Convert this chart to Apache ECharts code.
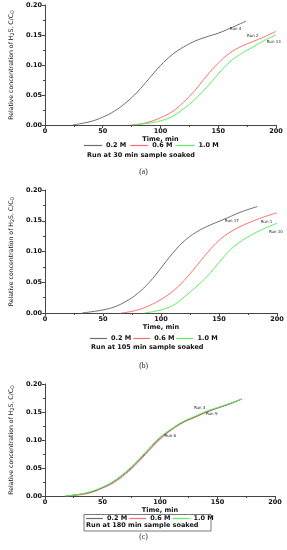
<!DOCTYPE html>
<html>
<head>
<meta charset="utf-8">
<script src="https://cdn.jsdelivr.net/npm/echarts@6/dist/echarts.min.js"></script>
<style>
html,body{margin:0;padding:0;background:#fff;}
#c{width:287px;height:550px;}
</style>
</head>
<body>
<div id="c"></div>
<script>
// ---------- data ----------
var seriesNames = ['0.2 M', '0.6 M', '1.0 M'];
var xTicks = [0, 50, 100, 150, 200];
var yTicks = [0.00, 0.05, 0.10, 0.15, 0.20];

// Panel (a): run at 30 min sample soaked
var timeA1 = [24, 30, 40, 50, 60, 70, 80, 90, 100, 110, 120, 130, 140, 150, 160, 174];
var concA1 = [0.000, 0.002, 0.006, 0.013, 0.023, 0.037, 0.055, 0.077, 0.099, 0.117, 0.130, 0.140, 0.147, 0.153, 0.161, 0.173];
var timeA2 = [74, 80, 90, 100, 110, 120, 130, 140, 150, 160, 170, 180, 190, 200];
var concA2 = [0.000, 0.001, 0.005, 0.012, 0.022, 0.038, 0.058, 0.082, 0.103, 0.120, 0.131, 0.139, 0.147, 0.156];
var timeA3 = [76, 90, 100, 110, 120, 130, 140, 150, 160, 170, 180, 190, 200];
var concA3 = [0.000, 0.003, 0.007, 0.014, 0.027, 0.043, 0.063, 0.085, 0.105, 0.119, 0.130, 0.141, 0.150];

// Panel (b): run at 105 min sample soaked
var timeB1 = [32, 40, 50, 60, 70, 80, 90, 100, 110, 120, 130, 140, 150, 160, 170, 183];
var concB1 = [0.000, 0.002, 0.005, 0.010, 0.019, 0.032, 0.050, 0.073, 0.097, 0.117, 0.131, 0.141, 0.149, 0.157, 0.165, 0.173];
var timeB2 = [66, 70, 80, 90, 100, 110, 120, 130, 140, 150, 160, 170, 180, 190, 200];
var concB2 = [0.000, 0.001, 0.005, 0.012, 0.022, 0.035, 0.053, 0.075, 0.098, 0.118, 0.132, 0.142, 0.150, 0.157, 0.163];
var timeB3 = [86, 95, 100, 110, 120, 130, 140, 150, 160, 170, 180, 190, 200];
var concB3 = [0.000, 0.003, 0.005, 0.012, 0.026, 0.042, 0.060, 0.082, 0.103, 0.118, 0.129, 0.138, 0.146];

// Panel (c): run at 180 min sample soaked
var timeC1 = [18, 30, 40, 50, 60, 70, 80, 90, 100, 110, 120, 130, 140, 150, 160, 171];
var concC1 = [0.000, 0.003, 0.007, 0.015, 0.026, 0.041, 0.060, 0.082, 0.103, 0.119, 0.132, 0.141, 0.150, 0.157, 0.164, 0.173];
var timeC2 = [18, 30, 40, 50, 60, 70, 80, 90, 100, 110, 120, 130, 140, 150, 160, 171];
var concC2 = [0.000, 0.002, 0.006, 0.014, 0.024, 0.039, 0.058, 0.080, 0.101, 0.118, 0.131, 0.140, 0.149, 0.157, 0.164, 0.173];
var timeC3 = [18, 30, 40, 50, 60, 70, 80, 90, 100, 110, 120, 130, 140, 150, 160, 171];
var concC3 = [0.000, 0.003, 0.008, 0.016, 0.027, 0.043, 0.062, 0.084, 0.105, 0.120, 0.133, 0.142, 0.151, 0.158, 0.165, 0.173];

// run annotations: [time, conc, text]
var runsA = [[160, 0.160, 'Run 4'], [175, 0.148, 'Run 2'], [192, 0.138, 'Run 13']];
var runsB = [[155, 0.150, 'Run 17'], [186, 0.148, 'Run 1'], [193, 0.132, 'Run 10']];
var runsC = [[129.5, 0.157, 'Run 3'], [140, 0.147, 'Run 9'], [104, 0.107, 'Run 6']];

var titles = ['Run at 30 min sample soaked', 'Run at 105 min sample soaked', 'Run at 180 min sample soaked'];
var panelTags = ['(a)', '(b)', '(c)'];

// ---------- styling / layout ----------
var colors = ['#6e6e6e', '#ff6f6f', '#5cee5c'];
var FONT = 'DejaVu Sans';
var grids = [
  {left: 36, top: 5, width: 240, height: 120},
  {left: 36, top: 190, width: 241, height: 123},
  {left: 36, top: 384, width: 239, height: 112}
];
var legendTop = [142, 335, 515];
var legendLeft = [84, 90, 86];
var legendItemW = [18, 17, 17];
var legendGap = [4, 2, 2];
var titleTop = [152, 344, 522];
var titleLeft = [87, 91, 86];
var tagTop = [168, 362, 533];

function zip(t, c) { return t.map(function (v, i) { return [v, c[i]]; }); }

var panels = [
  [[timeA1, concA1], [timeA2, concA2], [timeA3, concA3]],
  [[timeB1, concB1], [timeB2, concB2], [timeB3, concB3]],
  [[timeC1, concC1], [timeC2, concC2], [timeC3, concC3]]
];
var runs = [runsA, runsB, runsC];

var option = {
  animation: false,
  backgroundColor: '#fff',
  grid: grids,
  xAxis: [], yAxis: [], series: [], legend: [], title: [], graphic: []
};

for (var p = 0; p < 3; p++) {
  option.xAxis.push({
    gridIndex: p, type: 'value', min: xTicks[0], max: xTicks[xTicks.length - 1], interval: 50,
    name: 'Time, min', nameLocation: 'middle', nameGap: 11,
    nameTextStyle: {fontFamily: FONT, fontWeight: 'bold', fontSize: 6.5, color: '#111'},
    axisLine: {onZero: false, lineStyle: {color: '#444', width: 1}},
    axisTick: {show: true, length: 3, lineStyle: {color: '#444'}},
    minorTick: {show: true, splitNumber: 2, length: 2, lineStyle: {color: '#444'}},
    axisLabel: {fontFamily: FONT, fontWeight: 'bold', fontSize: 6.5, color: '#111', margin: 3},
    splitLine: {show: false}
  });
  option.yAxis.push({
    gridIndex: p, type: 'value', min: yTicks[0], max: yTicks[yTicks.length - 1], interval: 0.05,
    name: 'Relative concentration of H{s|2}S, C/C{s|O}', nameLocation: 'middle', nameGap: 25, nameRotate: 90,
    nameTextStyle: {fontFamily: FONT, fontSize: 6.2, color: '#111',
      rich: {s: {fontFamily: FONT, fontSize: 4.8, color: '#111', verticalAlign: 'bottom', padding: [3, 0, 0, 0]}}},
    axisLine: {show: true, lineStyle: {color: '#444', width: 1}},
    axisTick: {show: true, length: 3, lineStyle: {color: '#444'}},
    minorTick: {show: true, splitNumber: 2, length: 2, lineStyle: {color: '#444'}},
    axisLabel: {fontFamily: FONT, fontWeight: 'bold', fontSize: 6.5, color: '#111', margin: 3,
      formatter: function (v) { return v.toFixed(2); }},
    splitLine: {show: false}
  });
  for (var s = 0; s < 3; s++) {
    var ser = {
      name: seriesNames[s], type: 'line', xAxisIndex: p, yAxisIndex: p,
      data: zip(panels[p][s][0], panels[p][s][1]),
      smooth: 0.4, showSymbol: false, symbol: 'none',
      lineStyle: {color: colors[s], width: 1}, itemStyle: {color: colors[s]},
      z: p === 2 ? [3, 2, 4][s] : 2
    };
    if (s === 0) {
      ser.markPoint = {
        symbol: 'circle', symbolSize: 0, silent: true,
        data: runs[p].map(function (r) {
          return {coord: [r[0], r[1]], value: r[2],
            label: {show: true, position: 'right', distance: 0, formatter: r[2],
              fontFamily: FONT, fontSize: 4, color: '#222'}};
        })
      };
    }
    option.series.push(ser);
  }
  option.legend.push({
    data: seriesNames, left: legendLeft[p], top: legendTop[p], orient: 'horizontal',
    icon: 'rect', itemWidth: legendItemW[p], itemHeight: 1.2, itemGap: legendGap[p], padding: 0,
    selectedMode: false,
    textStyle: {fontFamily: FONT, fontWeight: 'bold', fontSize: 6.5, color: '#111', padding: [0, 0, 0, -1]}
  });
  option.title.push({
    text: titles[p], left: titleLeft[p], top: titleTop[p], padding: 0,
    textStyle: {fontFamily: FONT, fontWeight: 'bold', fontSize: 6.5, color: '#111'}
  });
  option.title.push({
    text: panelTags[p], left: 'center', top: tagTop[p], padding: 0,
    textStyle: {fontFamily: 'Liberation Serif', fontWeight: 'normal', fontSize: 7.5, color: '#222'}
  });
}
option.graphic.push({
  type: 'rect', shape: {x: 84, y: 514.5, width: 127, height: 16.5},
  style: {fill: 'none', stroke: '#555', lineWidth: 0.8}, silent: true
});

var chart = echarts.init(document.getElementById('c'), null, {renderer: 'canvas'});
chart.setOption(option);
</script>
</body>
</html>
